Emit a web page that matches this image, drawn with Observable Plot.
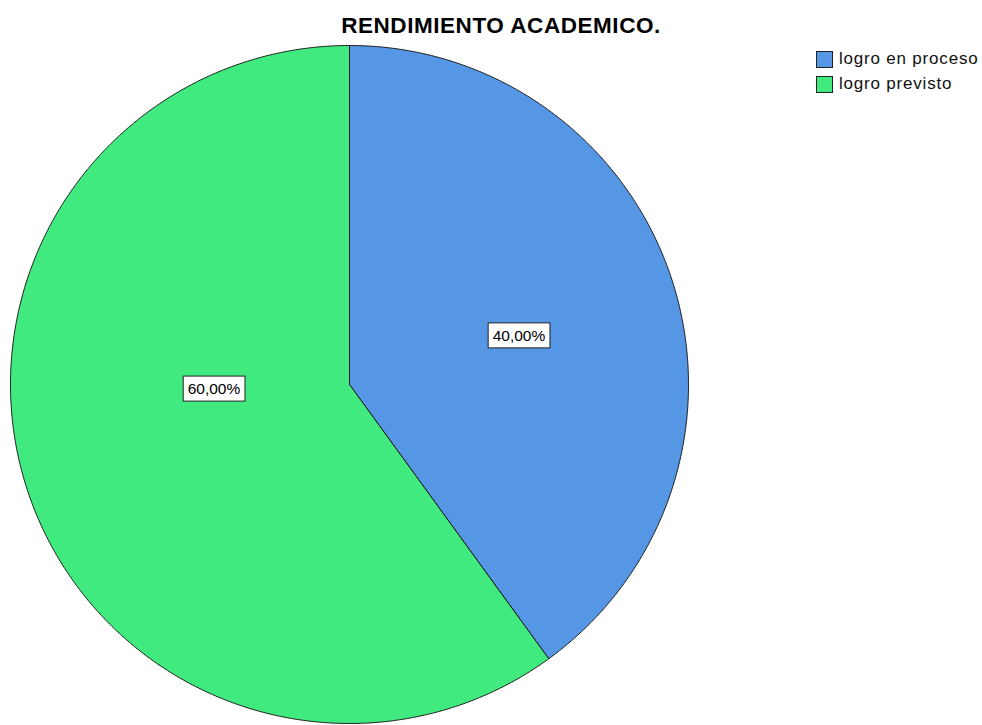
<!DOCTYPE html>
<html>
<head>
<meta charset="utf-8">
<script src="https://cdn.jsdelivr.net/npm/d3@7"></script>
<script src="https://cdn.jsdelivr.net/npm/@observablehq/plot@0.6"></script>
<style>
  html, body { margin: 0; padding: 0; background: #fff; }
  #wrap { position: relative; width: 982px; height: 725px; overflow: hidden; }
  #title { position: absolute; left: 0; width: 1002px; top: 13px; text-align: center;
    font: bold 22.5px "Liberation Sans", Arial, sans-serif; letter-spacing: 0.55px; color: #000; }
  #legend { position: absolute; left: 816px; top: 50px; font: 17px "Liberation Sans", Arial, sans-serif; letter-spacing: 0.8px; color: #111; }
  .item { display: flex; align-items: center; height: 18px; margin-bottom: 7px; }
  .sw { width: 15px; height: 15px; border: 1px solid #222; margin-right: 6px; }
  #chart { position: absolute; left: 0; top: 0; }
</style>
</head>
<body>
<div id="wrap">
  <div id="chart"></div>
  <div id="title"></div>
  <div id="legend"></div>
</div>
<script>
const title = "RENDIMIENTO ACADEMICO.";
const categories = ["logro en proceso", "logro previsto"];
const values = [40, 60];
const labels = ["40,00%", "60,00%"];
const colors = ["#5596e5", "#40ea7f"];

// layout (not data)
const cx = 349, cy = 384, R = 339;
const labelPlace = [{angleShift: 0.035, rad: 0.52}, {angleShift: 0.28, rad: 0.40}];

const arcs = d3.pie().sort(null).value(d => d.value)(
  categories.map((c, i) => ({cat: c, value: values[i], label: labels[i]}))
);

const pts = [];
arcs.forEach(a => {
  const n = Math.max(2, Math.ceil((a.endAngle - a.startAngle) / 0.005));
  pts.push({cat: a.data.cat, x: 0, y: 0});
  for (let k = 0; k <= n; k++) {
    const t = a.startAngle + (a.endAngle - a.startAngle) * k / n;
    pts.push({cat: a.data.cat, x: Math.sin(t), y: Math.cos(t)});
  }
  pts.push({cat: a.data.cat, x: 0, y: 0});
});

const labelData = arcs.map((a, i) => {
  const m = (a.startAngle + a.endAngle) / 2 + labelPlace[i].angleShift;
  return {label: a.data.label, x: labelPlace[i].rad * Math.sin(m), y: labelPlace[i].rad * Math.cos(m)};
});

const chart = Plot.plot({
  width: 982, height: 725, margin: 0,
  x: {domain: [-1, 1], range: [cx - R, cx + R], axis: null},
  y: {domain: [-1, 1], range: [cy + R, cy - R], axis: null},
  color: {domain: categories, range: colors},
  style: {background: "transparent"},
  marks: [
    Plot.line(pts, {x: "x", y: "y", z: "cat", fill: "cat", stroke: "#1a1a1a", strokeWidth: 1, strokeLinejoin: "round"}),
    Plot.text(labelData, {x: "x", y: "y", text: "label", fontSize: 15.5, fill: "#000",
      fontFamily: "Liberation Sans, Arial, sans-serif", className: "pielabel"})
  ]
});
document.getElementById("chart").append(chart);

// white boxes behind labels
d3.select(chart).selectAll("g[aria-label=text] text").each(function() {
  const b = this.getBBox();
  const tr = this.getAttribute("transform");
  const r = d3.select(this.parentNode).insert("rect", () => this)
    .attr("x", b.x - 4.5).attr("y", b.y - 4).attr("width", b.width + 9).attr("height", b.height + 8)
    .attr("fill", "#fff").attr("stroke", "#222").attr("stroke-width", 1);
  if (tr) r.attr("transform", tr);
});

document.getElementById("title").textContent = title;
const leg = d3.select("#legend");
categories.forEach((c, i) => {
  const it = leg.append("div").attr("class", "item");
  it.append("div").attr("class", "sw").style("background", colors[i]);
  it.append("span").text(c);
});
</script>
</body>
</html>
